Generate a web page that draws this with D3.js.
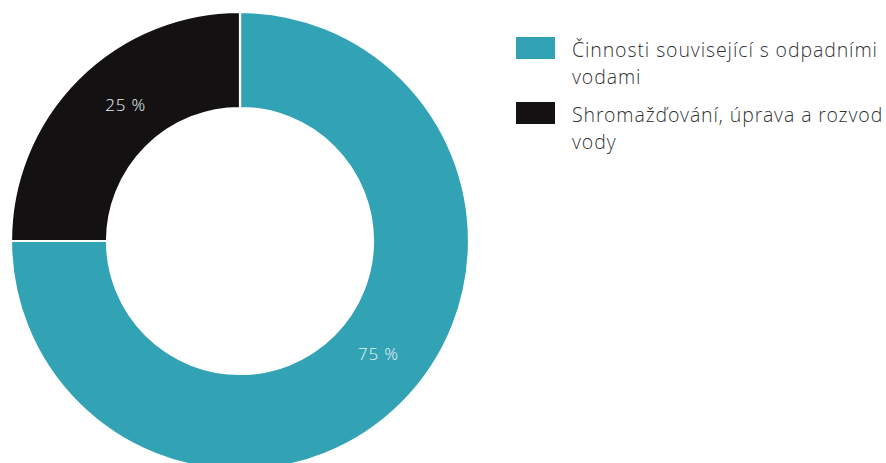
<!DOCTYPE html>
<html><head><meta charset="utf-8">
<script src="https://cdn.jsdelivr.net/npm/d3@7"></script>
<style>
html,body{margin:0;padding:0;background:#fff;}
svg{display:block;font-family:"Open Sans Light","Open Sans","Noto Sans",sans-serif;}
</style></head>
<body><svg id="c" width="886" height="463"></svg>
<script>
const categories = ["Činnosti související s odpadními vodami", "Shromažďování, úprava a rozvod vody"];
const legendLines = [["Činnosti související s odpadními", "vodami"], ["Shromažďování, úprava a rozvod", "vody"]];
const values = [75, 25];
const labels = ["75 %", "25 %"];
const colors = ["#31A3B4", "#141113"];

const svg = d3.select("#c");
const cx = 240, cy = 241, rOuter = 229, rInner = 133;
const g = svg.append("g").attr("transform", `translate(${cx},${cy})`);
const pie = d3.pie().sort(null).value(d => d)(values);
const arc = d3.arc().innerRadius(rInner).outerRadius(rOuter);
g.selectAll("path").data(pie).join("path")
  .attr("d", arc)
  .attr("fill", (d, i) => colors[i])
  .attr("stroke", "#fff").attr("stroke-width", 2.2);

const labelOffset = [-6, 5].map(a => a * Math.PI / 180);
const rLab = 178;
g.selectAll("text.lab").data(pie).join("text")
  .attr("class", "lab")
  .attr("x", (d, i) => rLab * Math.sin((d.startAngle + d.endAngle) / 2 + labelOffset[i]))
  .attr("y", (d, i) => -rLab * Math.cos((d.startAngle + d.endAngle) / 2 + labelOffset[i]))
  .attr("dy", "0.4em")
  .attr("text-anchor", "middle")
  .attr("fill", "#e8eef0")
  .attr("font-size", 17)
  .attr("font-weight", 300)
  .attr("letter-spacing", 0.8)
  .text((d, i) => labels[i]);

const lg = svg.append("g");
const items = lg.selectAll("g").data(categories).join("g")
  .attr("transform", (d, i) => `translate(516,${37 + i * 65})`);
items.append("rect").attr("width", 39).attr("height", 22).attr("fill", (d, i) => colors[i]);
items.append("text")
  .attr("x", 56).attr("y", 20)
  .attr("font-size", 19.5).attr("font-weight", 300).attr("fill", "#333")
  .attr("letter-spacing", 0.9)
  .selectAll("tspan").data((d, i) => legendLines[i]).join("tspan")
  .attr("x", 56).attr("dy", (d, j) => j === 0 ? 0 : 27)
  .text(d => d);
</script></body></html>
